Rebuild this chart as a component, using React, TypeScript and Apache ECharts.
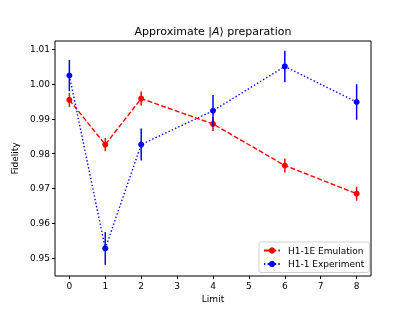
import React, { useEffect, useRef } from "react";
import * as echarts from "echarts";

const limits = [0, 1, 2, 4, 6, 8];
const emulation = [0.9954, 0.9826, 0.9958, 0.9885, 0.9766, 0.9685];
const emulationErr = [0.002, 0.0019, 0.002, 0.002, 0.002, 0.002];
const experiment = [1.0024, 0.9528, 0.9826, 0.9923, 1.005, 0.9948];
const experimentErr = [0.0045, 0.0047, 0.0046, 0.0045, 0.0045, 0.0051];
const xTicks = [0, 1, 2, 3, 4, 5, 6, 7, 8];
const yTicks = [0.95, 0.96, 0.97, 0.98, 0.99, 1.0, 1.01];

const FONT = "DejaVu Sans";

export default function App() {
  const ref = useRef<HTMLDivElement>(null);
  useEffect(() => {
    if (!ref.current) return;
    const chart = echarts.init(ref.current, undefined, { renderer: "svg" });
    const errRender = (color: string) => (params: any, api: any) => {
      const x = api.value(0);
      const lo = api.coord([x, api.value(1)]);
      const hi = api.coord([x, api.value(2)]);
      return {
        type: "line",
        shape: { x1: lo[0], y1: lo[1], x2: hi[0], y2: hi[1] },
        style: { stroke: color, lineWidth: 1.5 },
      };
    };
    chart.setOption({
      animation: false,
      textStyle: { fontFamily: FONT },
      grid: { left: 55, top: 41, width: 316, height: 235, show: true, borderColor: "#000", borderWidth: 1, backgroundColor: "transparent" },
      xAxis: {
        type: "value",
        min: -0.4,
        max: 8.4,
        name: "Limit",
        nameLocation: "middle",
        nameGap: 17.5,
        nameTextStyle: { fontFamily: FONT, fontSize: 9, color: "#000" },
        splitLine: { show: false },
        axisLine: { show: false, onZero: false },
        axisTick: { show: true, inside: false, length: 3, lineStyle: { color: "#000" }, customValues: xTicks },
        axisLabel: { color: "#000", fontSize: 9, fontFamily: FONT, margin: 5, customValues: xTicks, formatter: (v: number) => String(v) },
      },
      yAxis: {
        type: "value",
        min: 0.9449,
        max: 1.0123,
        name: "Fidelity",
        nameLocation: "middle",
        nameRotate: 90,
        nameGap: 29.5,
        nameTextStyle: { fontFamily: FONT, fontSize: 9, color: "#000" },
        splitLine: { show: false },
        axisLine: { show: false, onZero: false },
        axisTick: { show: true, inside: false, length: 3, lineStyle: { color: "#000" }, customValues: yTicks },
        axisLabel: { color: "#000", fontSize: 9, fontFamily: FONT, margin: 5, customValues: yTicks, formatter: (v: number) => v.toFixed(2) },
      },
      legend: {
        data: ["H1-1E Emulation", "H1-1 Experiment"],
        orient: "vertical",
        left: 259,
        top: 242,
        padding: [4, 5, 4, 4],
        itemWidth: 16,
        itemHeight: 8,
        itemGap: 4.5,
        backgroundColor: "#fff",
        borderColor: "#d0d0d0",
        borderWidth: 1,
        borderRadius: 2,
        textStyle: { fontFamily: FONT, fontSize: 9, color: "#000", padding: [0, 0, 0, 3] },
      },
      graphic: [
        {
          type: "text",
          x: 213,
          y: 31,
          style: {
            text: "{n|Approximate |}{i|A}{n|\u27E9 preparation}",
            align: "center",
            verticalAlign: "middle",
            rich: {
              n: { fontFamily: FONT, fontSize: 11, fill: "#000" },
              i: { fontFamily: FONT, fontSize: 11, fontStyle: "italic", fill: "#000" },
            },
          },
        },
      ],
      series: [
        {
          type: "custom",
          name: "errRed",
          z: 1,
          renderItem: errRender("#ff0000"),
          data: limits.map((x, i) => [x, emulation[i] - emulationErr[i], emulation[i] + emulationErr[i]]),
        },
        {
          type: "line",
          name: "H1-1E Emulation",
          z: 2,
          data: limits.map((x, i) => [x, emulation[i]]),
          symbol: "circle",
          symbolSize: 6,
          itemStyle: { color: "#ff0000" },
          lineStyle: { color: "#ff0000", width: 1.4, type: [5, 2.2] },
        },
        {
          type: "custom",
          name: "errBlue",
          z: 3,
          renderItem: errRender("#0000ff"),
          data: limits.map((x, i) => [x, experiment[i] - experimentErr[i], experiment[i] + experimentErr[i]]),
        },
        {
          type: "line",
          name: "H1-1 Experiment",
          z: 4,
          data: limits.map((x, i) => [x, experiment[i]]),
          symbol: "circle",
          symbolSize: 6,
          itemStyle: { color: "#0000ff" },
          lineStyle: { color: "#0000ff", width: 1.4, type: [1.4, 2.2] },
        },
      ],
    });
    return () => chart.dispose();
  }, []);
  return <div ref={ref} style={{ position: "fixed", left: 0, top: 0, width: 416, height: 314 }} />;
}
